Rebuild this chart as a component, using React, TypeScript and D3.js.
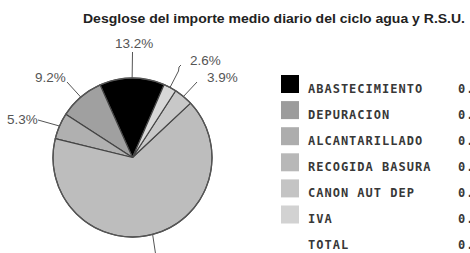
import React from 'react';
import * as d3 from 'd3';

// Legend order (pie is drawn counter-clockwise in this order)
const categories = ['ABASTECIMIENTO', 'DEPURACION', 'ALCANTARILLADO', 'RECOGIDA BASURA', 'CANON AUT DEP', 'IVA'];
const percents = [13.2, 9.2, 5.3, 65.8, 3.9, 2.6];
const sliceColors = ['#000000', '#a0a0a0', '#b0b0b0', '#bdbdbd', '#c8c8c8', '#d8d8d8'];
const swatchColors = ['#000000', '#9c9c9c', '#adadad', '#b8b8b8', '#c4c4c4', '#d2d2d2'];
const legendValues = ['0.', '0.', '0.', '0.', '0.', '0.'];
const totalLabel = 'TOTAL';
const totalValue = '0.';
const title = 'Desglose del importe medio diario del ciclo agua y R.S.U.';

// label anchor points (text position + leader end) per slice
const labelPos = [
  { tx: 115, ty: 48, ex: 132.5, ey: 52 },
  { tx: 35, ty: 82, ex: 67, ey: 82 },
  { tx: 7, ty: 124, ex: 38, ey: 120 },
  { tx: 140, ty: 285, ex: 158, ey: 270 },
  { tx: 207, ty: 82, ex: 197, ey: 82 },
  { tx: 190, ty: 65, ex: 179, ey: 67 },
];

const W = 470;
const H = 253;
const cx = 132.5;
const cy = 157.5;
const R = 79.5;

export default function App() {
  const start = (23.5 * Math.PI) / 180;
  const pie = d3
    .pie<number>()
    .sort(null)
    .value((d) => d)
    .startAngle(start)
    .endAngle(start - 2 * Math.PI);
  const arcs = pie(percents);
  const arc = d3.arc<d3.PieArcDatum<number>>().innerRadius(0).outerRadius(R);
  const edge = d3.arc<d3.PieArcDatum<number>>().innerRadius(R).outerRadius(R);

  const legendY = d3.scaleLinear().domain([0, 1]).range([75, 101.1]);
  const legendFont = { fontFamily: "'DejaVu Sans Mono', monospace", fontWeight: 'bold', fontSize: 12, letterSpacing: 1, fill: '#383838' } as const;

  return (
    <svg width={W} height={H} style={{ position: 'absolute', left: 0, top: 0, background: '#fff' }}>
      <text
        x={83}
        y={23}
        fontFamily="'Liberation Sans', Arial, sans-serif"
        fontWeight="bold"
        fontSize={12.5}
        fill="#222"
        textLength={382}
        lengthAdjust="spacingAndGlyphs"
      >
        {title}
      </text>

      <g transform={`translate(${cx},${cy})`}>
        {arcs.map((a, i) => (
          <path key={i} d={arc(a) || ''} fill={sliceColors[i]} stroke="#444" strokeWidth={1.2} strokeLinejoin="round" />
        ))}
        <circle r={R} fill="none" stroke="#555" strokeWidth={1.3} />
      </g>

      {arcs.map((a, i) => {
        const [px, py] = edge.centroid(a);
        const p = labelPos[i];
        const sx = cx + px;
        const sy = cy + py;
        const d =
          i === 5
            ? `M${sx},${sy} L${p.ex - 0.5},${p.ey + 4} L${p.ex},${p.ey} L${p.ex + 2},${p.ey - 2}`
            : `M${sx},${sy} L${p.ex},${p.ey}`;
        return (
          <g key={i}>
            <path d={d} fill="none" stroke="#555" strokeWidth={1} />
            <text x={p.tx} y={p.ty} fontFamily="'Liberation Sans', Arial, sans-serif" fontSize={13.5} fill="#555">
              {percents[i].toFixed(1)}%
            </text>
          </g>
        );
      })}

      {categories.map((c, i) => {
        const y = legendY(i);
        return (
          <g key={c}>
            <rect x={281} y={y} width={18} height={18} fill={swatchColors[i]} />
            <text x={308} y={y + 17.5} {...legendFont}>
              {c}
            </text>
            <text x={458} y={y + 17.5} {...legendFont}>
              {legendValues[i]}
            </text>
          </g>
        );
      })}
      <text x={308} y={legendY(6) + 17.5} {...legendFont}>
        {totalLabel}
      </text>
      <text x={458} y={legendY(6) + 17.5} {...legendFont}>
        {totalValue}
      </text>
    </svg>
  );
}
